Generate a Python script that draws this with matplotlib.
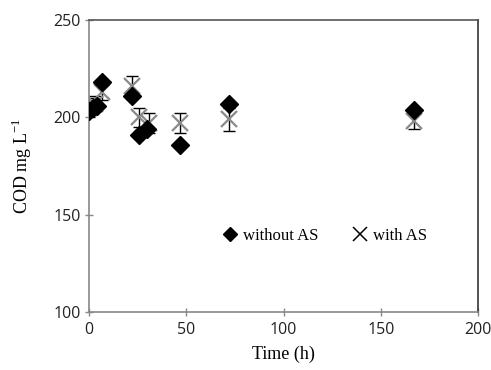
import matplotlib
matplotlib.use("Agg")
import matplotlib.pyplot as plt
from matplotlib.lines import Line2D

plt.rcParams['mathtext.fontset'] = 'custom'
plt.rcParams['mathtext.rm'] = 'Liberation Serif'

# without AS (diamonds)
t_without = [0, 2, 4, 7, 22, 26, 30, 47, 72, 167]
cod_without = [203, 205, 206, 218, 211, 191, 194, 186, 207, 204]

# with AS (x markers with error bars)
t_with = [0, 3, 7, 22, 26, 31, 47, 72, 167]
cod_with = [205, 207, 213, 216, 200, 197, 197, 199, 198]
err_with = [5, 4, 4, 5, 5, 5, 5, 6, 4]

xticks = [0, 50, 100, 150, 200]
yticks = [100, 150, 200, 250]

fig = plt.figure(figsize=(4.91, 3.70), dpi=100)
ax = fig.add_axes([0.181, 0.157, 0.793, 0.789])

ax.errorbar(t_with, cod_with, yerr=err_with, fmt='none', ecolor='black',
            elinewidth=1.0, capsize=4, capthick=1.0, zorder=2)
ax.plot(t_with, cod_with, linestyle='none', marker='x', markersize=11,
        markeredgewidth=1.6, color='#8a8a8a', zorder=3)
ax.plot(t_without, cod_without, linestyle='none', marker='D', markersize=9,
        color='black', zorder=4)

ax.set_xlim(0, 200)
ax.set_ylim(100, 250)
ax.set_xticks(xticks)
ax.set_yticks(yticks)

for lab in ax.get_xticklabels() + ax.get_yticklabels():
    lab.set_fontfamily('Open Sans')
    lab.set_fontsize(11.5)
    lab.set_color('#222222')

ax.tick_params(axis='both', direction='inout', length=6, width=1, color='#888888')
ax.tick_params(axis='y', pad=3)
ax.tick_params(axis='x', pad=4)

ax.spines['left'].set_color('#888888')
ax.spines['bottom'].set_color('#888888')
ax.spines['top'].set_color('#555555')
ax.spines['right'].set_color('#333333')
for s in ax.spines.values():
    s.set_linewidth(1.2)

ax.set_xlabel('Time (h)', fontfamily='Liberation Serif', fontsize=13, labelpad=6)
ax.set_ylabel('COD mg L$^{\\mathregular{-1}}$', fontfamily='Liberation Serif',
              fontsize=13, labelpad=14)

h1 = Line2D([], [], linestyle='none', marker='D', markersize=7, color='black')
h2 = Line2D([], [], linestyle='none', marker='x', markersize=10,
            markeredgewidth=1.1, color='black')
ax.legend([h1, h2], ['without AS', 'with AS'],
          loc='center', bbox_to_anchor=(0.605, 0.26), ncol=2, frameon=False,
          prop={'family': 'Liberation Serif', 'size': 12},
          handletextpad=0.3, columnspacing=2.0, handlelength=1.0)

fig.savefig('out.png', dpi=100)
